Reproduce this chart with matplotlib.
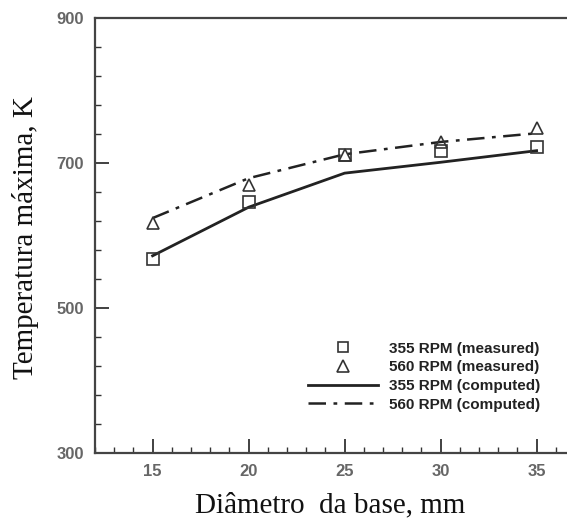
import matplotlib
matplotlib.use("Agg")
import matplotlib.pyplot as plt
from matplotlib.ticker import FixedLocator
from matplotlib.lines import Line2D
import numpy as np

diameters = [15, 20, 25, 30, 35]
meas_355 = [568, 646, 711, 717, 722]
meas_560 = [617, 670, 711, 729, 748]
comp_355 = [572, 639, 686, 701, 717]
comp_560 = [624, 679, 712, 729, 741]
labels = ["355 RPM (measured)", "560 RPM (measured)",
          "355 RPM (computed)", "560 RPM (computed)"]
y_major = [300, 500, 700, 900]

W, H = 567, 521
fig = plt.figure(figsize=(W / 100, H / 100), dpi=100)
x0, y0 = 95, 453
xr = (12, 38)
px_per_x = 96 / 5.0
right_px = x0 + (xr[1] - xr[0]) * px_per_x
ax = fig.add_axes([x0 / W, 1 - y0 / H, (right_px - x0) / W, (y0 - 18) / H])
ax.set_xlim(*xr)
ax.set_ylim(300, 900)

dashdot = (0, (7, 3, 1.5, 3))
ax.plot(diameters, comp_355, color="#222222", lw=2.0, ls="-")
ax.plot(diameters, comp_560, color="#222222", lw=1.8, ls=dashdot)
ax.plot(diameters, meas_355, ls="none", marker="s", ms=8, mfc="none", mec="#333333", mew=1.2)
ax.plot(diameters, meas_560, ls="none", marker="^", ms=9, mfc="none", mec="#333333", mew=1.2)

ax.xaxis.set_major_locator(FixedLocator(diameters))
ax.xaxis.set_minor_locator(FixedLocator(np.arange(12, 39, 1)))
ax.yaxis.set_major_locator(FixedLocator(y_major))
ax.yaxis.set_minor_locator(FixedLocator(np.arange(300, 901, 40)))
ax.tick_params(which="major", direction="in", length=10, width=1.3, color="#333333",
               labelsize=12, labelcolor="#666666", pad=8)
ax.tick_params(which="minor", direction="in", length=4, width=1.0, color="#333333")
for t in ax.get_xticklabels() + ax.get_yticklabels():
    t.set_fontweight("bold")
    t.set_family("Liberation Sans")
for s in ax.spines.values():
    s.set_linewidth(1.6)
    s.set_color("#444444")

fig.text(330 / W, 1 - 505 / H, "Diâmetro  da base, mm", ha="center", va="center",
         family="Liberation Serif", fontsize=21, color="#111111")
fig.text(26 / W, 1 - 238 / H, "Temperatura máxima, K", ha="center", va="center",
         rotation=90, family="Liberation Serif", fontsize=21, color="#111111")

handles = [
    Line2D([], [], ls="none", marker="s", ms=7, mfc="none", mec="#333333", mew=1.2),
    Line2D([], [], ls="none", marker="^", ms=8, mfc="none", mec="#333333", mew=1.2),
    Line2D([], [], color="#222222", lw=2.0),
    Line2D([], [], color="#222222", lw=1.8, ls=dashdot),
]
leg = fig.legend(handles, labels, loc="upper left",
                 bbox_to_anchor=(294 / W, 1 - 328 / H), frameon=False,
                 handlelength=4.6, handletextpad=0.7, labelspacing=0.3,
                 prop={"family": "Liberation Sans", "weight": "bold", "size": 11})
for t in leg.get_texts():
    t.set_color("#222222")

fig.savefig("out.png", dpi=100, facecolor="white")
